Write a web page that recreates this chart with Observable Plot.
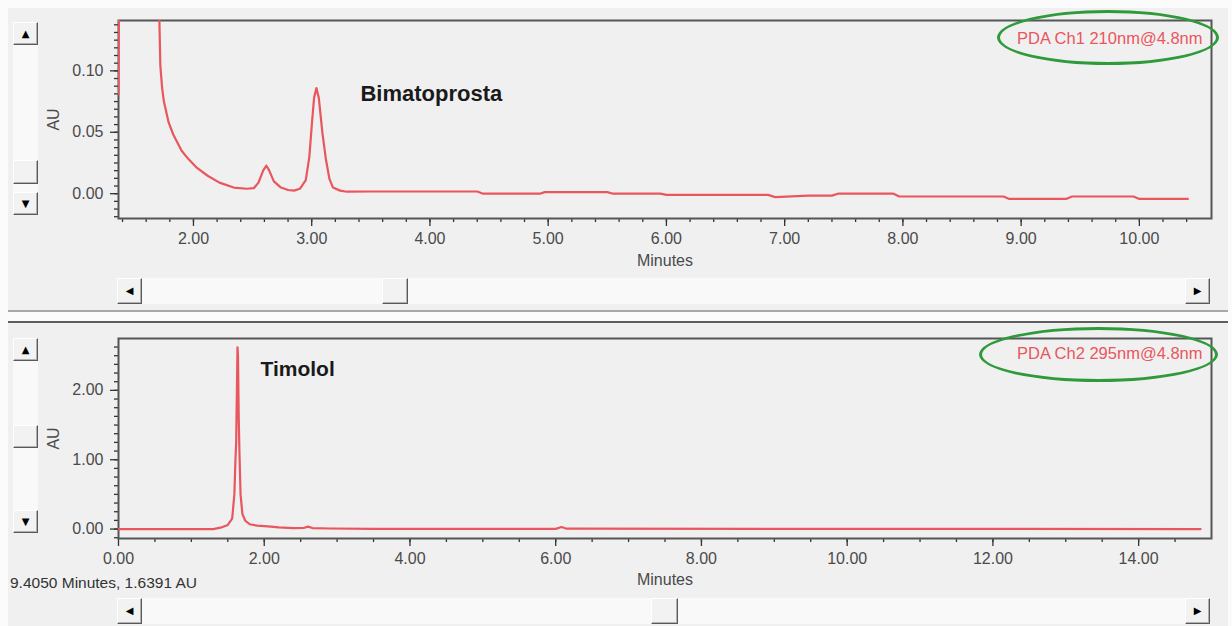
<!DOCTYPE html>
<html><head><meta charset="utf-8">
<script src="https://cdn.jsdelivr.net/npm/d3@7"></script>
<script src="https://cdn.jsdelivr.net/npm/@observablehq/plot@0.6"></script>
<style>
html,body{margin:0;padding:0;background:#fbfbfb;font-family:"Liberation Sans",Arial,sans-serif;}
#wrap{position:relative;width:1232px;height:626px;overflow:hidden;background:#fbfbfb;}
#panel{position:absolute;left:8px;top:8px;width:1220px;height:618px;background:#f0f0f0;}
.plot{position:absolute;left:0;}
.btn{position:absolute;box-sizing:border-box;background:#f2f2f2;border:1px solid;border-color:#ffffff #5a5a5a #5a5a5a #ffffff;box-shadow:inset -1px -1px 0 #b0b0b0;font-size:10px;line-height:1;display:flex;align-items:center;justify-content:center;color:#000;font-family:"DejaVu Sans",sans-serif;}
.track{position:absolute;background:#f9f9f9;}
.ell{position:absolute;border:3px solid #2e9a3a;border-radius:50%;box-sizing:border-box;}
.hline{position:absolute;left:8px;width:1220px;}
</style></head>
<body>
<div id="wrap">
  <div id="panel"></div>
</div>
<script>
// ---- Top panel: PDA Ch1 210nm (Bimatoprost) ----
const time1 = [1.366, 1.372, 1.70, 1.712, 1.72, 1.735, 1.75, 1.79, 1.83, 1.9, 1.95, 2.03, 2.12, 2.22, 2.34, 2.45, 2.51, 2.55, 2.59, 2.617, 2.64, 2.68, 2.74, 2.8, 2.85, 2.9, 2.95, 2.98, 3.0, 3.02, 3.04, 3.06, 3.09, 3.12, 3.15, 3.18, 3.24, 3.3, 3.5, 4.4, 4.45, 4.93, 4.97, 5.5, 5.55, 5.95, 6.0, 6.86, 6.92, 7.2, 7.4, 7.45, 7.92, 7.97, 8.85, 8.9, 9.38, 9.43, 9.95, 10.0, 10.41];
const au1   = [0.081, 0.2, 0.2, 0.14, 0.104, 0.086, 0.075, 0.058, 0.048, 0.035, 0.029, 0.021, 0.0146, 0.009, 0.005, 0.004, 0.0045, 0.009, 0.019, 0.0228, 0.019, 0.01, 0.005, 0.003, 0.0025, 0.004, 0.011, 0.03, 0.055, 0.078, 0.086, 0.078, 0.05, 0.028, 0.012, 0.005, 0.0025, 0.0016, 0.0018, 0.0018, 0.0, 0.0, 0.0013, 0.0013, 0.0, 0.0, -0.001, -0.001, -0.0028, -0.0016, -0.0016, 0.0, 0.0, -0.0023, -0.0023, -0.0043, -0.0043, -0.0023, -0.0023, -0.0043, -0.0043];
const xTicks1 = [2, 3, 4, 5, 6, 7, 8, 9, 10];
const yTicks1 = [0, 0.05, 0.10];
const peak1 = {name: "Bimatoprosta", t: 3.04, au: 0.086};
const channel1 = "PDA Ch1 210nm@4.8nm";

// ---- Bottom panel: PDA Ch2 295nm (Timolol) ----
const time2 = [0, 1.3, 1.4, 1.5, 1.56, 1.59, 1.605, 1.615, 1.625, 1.633, 1.64, 1.65, 1.66, 1.675, 1.7, 1.74, 1.8, 1.9, 2.05, 2.2, 2.4, 2.55, 2.6, 2.66, 2.9, 3.5, 6.0, 6.08, 6.15, 14.85];
const au2   = [0.0, 0.0, 0.02, 0.06, 0.15, 0.5, 1.0, 1.25, 2.0, 2.62, 2.5, 1.6, 1.1, 0.5, 0.22, 0.12, 0.07, 0.05, 0.04, 0.025, 0.015, 0.018, 0.035, 0.015, 0.008, 0.004, 0.003, 0.03, 0.005, 0.0];
const xTicks2 = [0, 2, 4, 6, 8, 10, 12, 14];
const yTicks2 = [0, 1, 2];
const peak2 = {name: "Timolol", t: 1.633, au: 2.62};
const channel2 = "PDA Ch2 295nm@4.8nm";

const statusText = "9.4050 Minutes, 1.6391 AU";

const RED = "#e9565d";
const FONT = "Liberation Sans, Arial, sans-serif";
const fmt = d3.format(".2f");

function chromatogram({time, au, xDomain, yDomain, xTicks, xMinor, yTicks, yMinor, peak, peakFont, peakDx, peakDy, channel, chDy, height, marginTop, marginBottom, xLabelOffset}) {
  const rows = time.map((t, i) => ({t, v: au[i]}));
  return Plot.plot({
    width: 1232, height, marginLeft: 118, marginRight: 21, marginTop, marginBottom,
    style: {background: "transparent", fontFamily: FONT, fontSize: "16px", overflow: "visible"},
    x: {domain: xDomain}, y: {domain: yDomain},
    marks: [
      Plot.axisX(xMinor, {tickSize: 4, tickFormat: () => "", label: null, stroke: "#333", strokeWidth: 1.3}),
      Plot.axisY(yMinor, {tickSize: 4, tickFormat: () => "", label: null, stroke: "#333", strokeWidth: 1.3}),
      Plot.axisX(xTicks, {tickSize: 8, tickPadding: 6, tickFormat: fmt, stroke: "#333", strokeWidth: 1.3, fill: "#4a4a4a", fontSize: 16,
        label: "Minutes", labelAnchor: "center", labelArrow: "none", labelOffset: xLabelOffset}),
      Plot.axisY(yTicks, {tickSize: 8, tickPadding: 7, tickFormat: fmt, stroke: "#333", strokeWidth: 1.3, fill: "#4a4a4a", fontSize: 16,
        label: "AU", labelAnchor: "center", labelArrow: "none", labelOffset: 71}),
      Plot.frame({stroke: "#555", strokeWidth: 2}),
      Plot.line(rows, {x: "t", y: "v", stroke: RED, strokeWidth: 2.2, clip: true}),
      Plot.text([peak], {x: "t", y: "au", text: "name", dx: peakDx, dy: peakDy, textAnchor: "start", lineAnchor: "middle",
        fontWeight: "bold", fontSize: peakFont, fill: "#1a1a1a"}),
      Plot.text([channel], {frameAnchor: "top-right", dx: -9, dy: chDy, textAnchor: "end", lineAnchor: "middle",
        fill: RED, fontSize: 16.5})
    ]
  });
}

const minorRange = (a, b, s) => d3.range(Math.round(a / s), Math.round(b / s) + 1).map(k => +(k * s).toFixed(6));

const p1 = chromatogram({
  time: time1, au: au1, xDomain: [1.366, 10.61], yDomain: [-0.0202, 0.141],
  xTicks: xTicks1, xMinor: minorRange(1.4, 10.4, 0.2), yTicks: yTicks1, yMinor: minorRange(-0.01875, 0.1375, 0.00625),
  peak: peak1, peakFont: 22, peakDx: 44, peakDy: 6, channel: channel1, chDy: 18,
  height: 270, marginTop: 20, marginBottom: 52, xLabelOffset: 47
});
const p2 = chromatogram({
  time: time2, au: au2, xDomain: [0, 15], yDomain: [-0.136, 2.748],
  xTicks: xTicks2, xMinor: minorRange(0.5, 14.5, 0.5), yTicks: yTicks2, yMinor: minorRange(-0.125, 2.625, 0.125),
  peak: peak2, peakFont: 21, peakDx: 23, peakDy: 22, channel: channel2, chDy: 15,
  height: 250, marginTop: 18, marginBottom: 32, xLabelOffset: 46
});

const wrap = document.getElementById("wrap");
p1.classList.add("plot"); p1.style.top = "0px";
p2.classList.add("plot"); p2.style.top = "320px";
wrap.appendChild(p1); wrap.appendChild(p2);

// ---- window chrome: scrollbars, dividers, annotations ----
function el(cls, css, html) {
  const d = document.createElement("div");
  d.className = cls; d.style.cssText = css; if (html) d.innerHTML = html;
  wrap.appendChild(d); return d;
}
// dividers
el("hline", "top:310px;height:2px;background:#a8a8a8;");
el("hline", "top:312px;height:9px;background:#fbfbfb;");
el("hline", "top:321px;height:2px;background:#5e5e5e;");
// vertical scrollbars
el("track", "left:13px;top:22px;width:25px;height:193px;");
el("btn", "left:13px;top:22px;width:25px;height:23px;", "&#9650;");
el("btn", "left:13px;top:160px;width:25px;height:24px;");
el("btn", "left:13px;top:192px;width:25px;height:23px;", "&#9660;");
el("track", "left:13px;top:338px;width:25px;height:195px;");
el("btn", "left:13px;top:338px;width:25px;height:23px;", "&#9650;");
el("btn", "left:13px;top:425px;width:25px;height:23px;");
el("btn", "left:13px;top:510px;width:25px;height:23px;", "&#9660;");
// horizontal scrollbars
el("track", "left:117px;top:278px;width:1093px;height:26px;");
el("btn", "left:117px;top:278px;width:25px;height:26px;", "&#9664;");
el("btn", "left:382px;top:278px;width:26px;height:26px;");
el("btn", "left:1185px;top:278px;width:25px;height:26px;", "&#9654;");
el("track", "left:117px;top:598px;width:1093px;height:26px;");
el("btn", "left:117px;top:598px;width:25px;height:26px;", "&#9664;");
el("btn", "left:651px;top:598px;width:27px;height:26px;");
el("btn", "left:1185px;top:598px;width:25px;height:26px;", "&#9654;");
// hand-drawn green ellipses around channel labels
el("ell", "left:997px;top:10px;width:222px;height:55px;");
el("ell", "left:979px;top:327px;width:239px;height:55px;");
// status line
el("", "position:absolute;left:10px;top:574px;font-size:15.5px;color:#333;white-space:nowrap;").textContent = statusText;
</script>
</body></html>
